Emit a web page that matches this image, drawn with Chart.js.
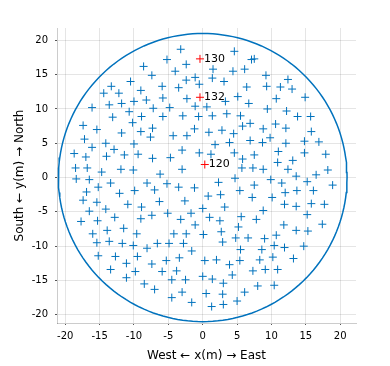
<!DOCTYPE html>
<html>
<head>
<meta charset="utf-8">
<script src="https://cdn.jsdelivr.net/npm/chart.js@4/dist/chart.umd.min.js"></script>
<style>
  html, body { margin: 0; padding: 0; background: #fff; }
  #wrap { width: 390px; height: 366px; }
</style>
</head>
<body>
<div id="wrap"><canvas id="plano" width="390" height="366"></canvas></div>
<script>
const posX = [
  -8.6, -7.4, -13.3, -10.5, -9.0, -14.4, -12.2, -10.0, -8.2,
  -16.1, -13.6, -11.8, -7.2, -13.1, -10.7, -8.9, -17.4, -15.4, -10.2, -9.0,
  -7.3, -11.8, -17.2, -14.1, -7.6, -16.1, -10.0, -12.9, -18.7, -17.0,
  -14.0, -11.4, -9.4, -7.3, -18.5, -16.8, -14.7, -11.9, -10.1,
  -18.4, -16.5, -15.2, -13.4, -16.9, -17.4, -15.4, -12.1, -9.9, -8.1,
  -7.0, -10.9, -8.9, -16.5, -14.1, -17.7, -15.3, -12.8, -9.0, -7.4,
  -13.9, -11.5, -16.0, -9.6, -15.4, -13.6, -11.7, -10.1, -8.1,
  -15.2, -12.7, -9.5, -11.1, -13.4, -9.8, -7.4, -11.1, -8.5, -7.0,
  -3.2, 4.6, -5.2, -2.4, 7.1, -4.0, 1.5, 4.4, 6.1, -1.1,
  1.4, -2.4, 3.1, -5.9, -0.5, -3.5, 6.4, -5.8, -2.3, 3.3, 5.1,
  -1.1, 6.7, -4.8, 0.6, -5.8, -2.9, -0.6, 1.4, 3.5, 5.5,
  -4.3, -2.3, -1.2, 0.9, 2.8, 4.5, 5.8, 6.9, 1.8, 3.9,
  6.9, -3.0, -0.5, 1.2, 4.6, -4.7, 5.8, -3.0, -6.2, 5.7,
  4.7, 2.3, -5.2, -3.5, -1.2, 5.4, 0.8, 2.6, -6.3, -2.6,
  0.0, 3.2, -5.1, -1.7, 1.0, 5.6, -3.2, -1.1, 2.5, 5.2,
  -4.2, -2.4, 0.1, 2.7, 4.8, 6.6, -6.6, -4.9, -2.8, 2.9,
  -1.6, 5.5, -5.3, -3.4, 0.3, 2.0, 3.9, 5.4, -5.9, -3.8,
  4.3, -4.5, -2.5, 0.0, 1.4, 3.0, -3.0, 0.5, 2.9, 6.1,
  -4.5, -1.6, 5.0, 1.3, 3.0,
  7.5, 9.2, 12.4, 9.3, 11.3, 13.0, 10.7, 14.9,
  9.4, 12.2, 13.8, 15.7, 10.6, 8.8, 12.1, 15.8, 8.7, 9.8,
  12.1, 14.8, 16.9, 7.5, 11.0, 14.8, 10.9, 13.1, 17.9, 7.3,
  8.8, 12.4, 16.5, 18.2,
  7.5, 9.9, 11.5, 13.6, 15.2, 7.2, 12.0, 13.7, 16.1, 18.9,
  10.1, 11.9, 13.6, 15.8, 17.7, 8.8, 15.2, 7.8, 11.8, 17.4,
  13.6, 15.3, 10.7, 9.0, 10.4, 11.9, 14.7,
  8.6, 8.3, 10.2, 13.2, 7.3, 9.1, 10.9, 8.0, 10.4
];
const posY = [
  16.2, 14.9, 13.3, 14.0, 12.7, 12.3, 12.3, 11.1, 11.3,
  10.2, 10.6, 10.8, 10.1, 8.8, 9.6, 8.9, 7.6, 7.0, 8.0, 6.7,
  7.2, 6.5, 5.6, 5.0, 5.9, 4.4, 4.9, 4.1, 3.5, 3.0,
  3.1, 3.3, 3.4, 2.8, 1.4, 1.4, 0.8, 1.2, 1.1,
  -0.2, -0.3, -1.4, -0.8, -2.1, -3.3, -3.6, -2.3, -1.9, -0.8,
  -1.8, -3.9, -4.3, -4.9, -4.6, -6.4, -6.3, -5.8, -6.0, -5.5,
  -7.7, -7.4, -8.2, -8.2, -9.5, -9.3, -9.6, -9.9, -10.3,
  -11.4, -11.5, -11.5, -12.5, -13.4, -13.7, -12.6, -14.6, -15.5, -16.3,
  18.7, 18.4, 17.2, 16.5, 17.2, 15.5, 15.8, 15.5, 15.8, 14.6,
  14.5, 14.2, 14.0, 13.3, 13.6, 13.1, 13.2, 11.6, 11.5, 11.1, 11.8,
  10.4, 10.8, 10.2, 10.3, 8.9, 9.0, 8.9, 9.0, 9.3, 9.0,
  6.1, 6.1, 7.1, 6.6, 6.9, 6.4, 7.5, 7.9, 4.8, 5.1,
  5.4, 4.0, 3.6, 3.4, 3.6, 2.9, 2.7, 1.2, 0.5, 1.4,
  -0.1, -0.7, -0.9, -1.4, -1.5, -1.9, -2.7, -2.5, -3.5, -3.4,
  -4.5, -4.3, -5.2, -5.2, -5.8, -5.7, -6.1, -6.9, -6.3, -7.2,
  -8.2, -8.2, -8.3, -7.9, -8.8, -8.8, -9.6, -9.6, -9.6, -9.4,
  -10.7, -10.5, -12.1, -11.7, -12.1, -12.0, -12.7, -12.1, -13.7, -13.6,
  -14.2, -14.9, -14.9, -14.4, -14.8, -15.4, -16.7, -16.9, -17.0, -16.7,
  -17.5, -18.2, -18.0, -18.8, -18.5,
  17.3, 14.9, 14.3, 13.3, 13.2, 12.9, 11.5, 11.7,
  10.0, 9.7, 8.9, 8.9, 7.8, 7.1, 7.2, 6.7, 5.1, 5.8,
  5.0, 5.3, 5.2, 3.3, 3.8, 3.6, 2.2, 2.5, 3.4, 1.4,
  1.2, 1.2, 0.4, 1.1,
  -1.1, -0.3, -0.8, 0.2, -0.6, -2.9, -2.2, -1.9, -1.9, -1.1,
  -2.9, -3.9, -4.2, -3.8, -3.9, -4.8, -5.4, -6.1, -6.9, -6.8,
  -7.7, -7.8, -8.4, -8.9, -9.9, -10.2, -10.0,
  -10.5, -12.0, -11.6, -11.8, -13.6, -13.4, -13.4, -15.8, -15.7
];

// puntos marcados en rojo con su numero
const marcaX = [-0.4, -0.4, 0.3];
const marcaY = [17.3, 11.7, 1.9];
const marcaTxt = ['130', '132', '120'];

const radio = 21;
const tickVals = [-20, -15, -10, -5, 0, 5, 10, 15, 20];

const puntos = posX.map((x, i) => ({ x: x, y: posY[i] }));
const marcados = marcaX.map((x, i) => ({ x: x, y: marcaY[i] }));

// borde del campo: circulo de radio fijo
const circulo = [];
for (let a = 0; a <= 360; a += 2) {
  const t = a * Math.PI / 180;
  circulo.push({ x: radio * Math.cos(t), y: radio * Math.sin(t) });
}

// etiquetas de los puntos rojos
const etiquetas = {
  id: 'etiquetas',
  afterDatasetsDraw(chart) {
    const ctx = chart.ctx;
    const sx = chart.scales.x, sy = chart.scales.y;
    ctx.save();
    ctx.fillStyle = '#000';
    ctx.font = '11px "DejaVu Sans"';
    ctx.textBaseline = 'middle';
    ctx.textAlign = 'left';
    marcaTxt.forEach((t, i) => {
      ctx.fillText(t, sx.getPixelForValue(marcaX[i]) + 4, sy.getPixelForValue(marcaY[i]));
    });
    ctx.restore();
  }
};

const fuente = { family: '"DejaVu Sans", sans-serif', size: 10 };
const fuenteTitulo = { family: '"DejaVu Sans", sans-serif', size: 12 };
const rejilla = { color: 'rgba(0,0,0,0.1)', drawTicks: true, tickLength: 2, tickColor: '#555', lineWidth: 1 };

const ctx = document.getElementById('plano').getContext('2d');
const grafico = new Chart(ctx, {
  type: 'scatter',
  data: {
    datasets: [{
      data: puntos,
      pointStyle: 'cross',
      pointRadius: 4,
      borderColor: '#0072BD',
      borderWidth: 1
    }, {
      data: marcados,
      pointStyle: 'cross',
      pointRadius: 4,
      borderColor: '#ff0000',
      borderWidth: 1
    }, {
      data: circulo,
      showLine: true,
      pointRadius: 0,
      borderColor: '#0072BD',
      borderWidth: 1.5,
      fill: false
    }]
  },
  plugins: [etiquetas],
  options: {
    responsive: false,
    animation: false,
    devicePixelRatio: 1,
    events: [],
    layout: { padding: { top: 28, right: 34, left: 0, bottom: 0 } },
    plugins: { legend: { display: false }, tooltip: { enabled: false } },
    scales: {
      x: {
        type: 'linear',
        min: -21.2,
        max: 22.3,
        afterBuildTicks: s => { s.ticks = tickVals.map(v => ({ value: v })); },
        afterFit: s => { s.height = 43; },
        grid: rejilla,
        border: { display: true, color: 'rgba(0,0,0,0.2)' },
        ticks: { padding: 5, color: '#000', font: fuente },
        title: { display: true, text: 'West ← x(m) → East', color: '#000',
                 font: fuenteTitulo, padding: { top: 4, bottom: 3 } }
      },
      y: {
        type: 'linear',
        min: -21.2,
        max: 21.8,
        afterBuildTicks: s => { s.ticks = tickVals.map(v => ({ value: v })); },
        afterFit: s => { s.width = 57; },
        grid: rejilla,
        border: { display: true, color: 'rgba(0,0,0,0.2)' },
        ticks: { padding: 7, color: '#000', font: fuente },
        title: { display: true, text: 'South ← y(m) → North', color: '#000',
                 font: fuenteTitulo, padding: { top: 13, bottom: 4 } }
      }
    }
  }
});
</script>
</body>
</html>
